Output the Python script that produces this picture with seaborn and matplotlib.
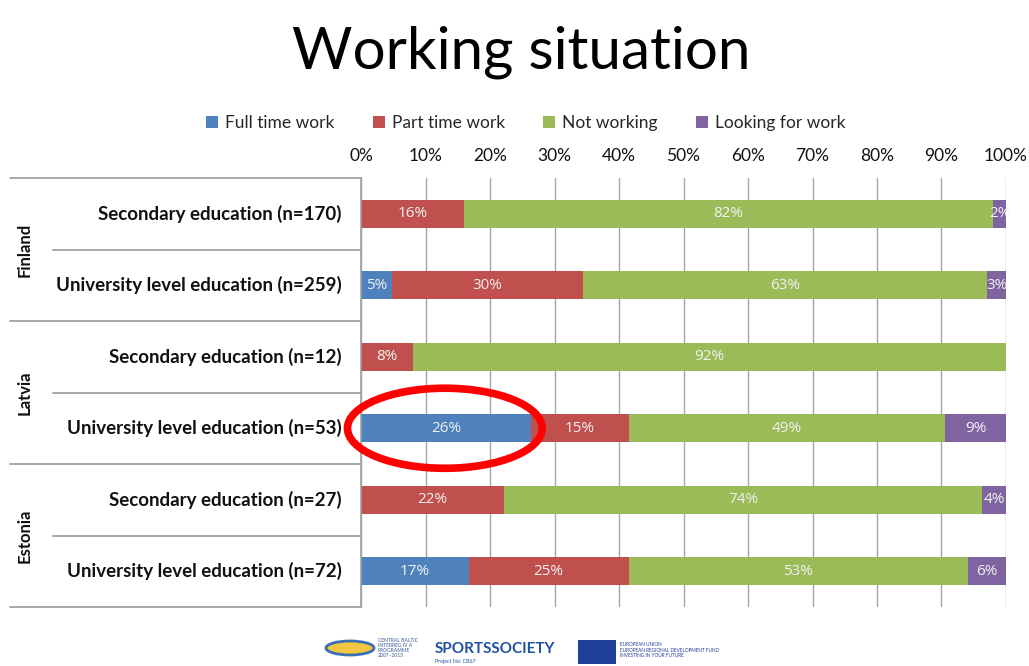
import matplotlib
matplotlib.use("Agg")
import matplotlib.pyplot as plt
import matplotlib.transforms as mtransforms
from matplotlib.patches import Patch, Ellipse, Rectangle
import seaborn as sns
import pandas as pd
import numpy as np

# ---------------- data ----------------
countries = ["Finland", "Latvia", "Estonia"]
categories = [
    "Secondary education (n=170)",
    "University level education (n=259)",
    "Secondary education (n=12)",
    "University level education (n=53)",
    "Secondary education (n=27)",
    "University level education (n=72)",
]
series = ["Full time work", "Part time work", "Not working", "Looking for work"]
full_time = [0.0, 4.8, 0.0, 26.4, 0.0, 16.7]
part_time = [16.0, 29.6, 8.0, 15.1, 22.2, 24.8]
not_working = [82.0, 62.7, 92.0, 49.1, 74.1, 52.6]
looking = [2.0, 2.9, 0.0, 9.4, 3.7, 5.9]
tick_labels = ["0%", "10%", "20%", "30%", "40%", "50%", "60%", "70%", "80%", "90%", "100%"]
colors = ["#4F81BD", "#C0504D", "#9BBB59", "#8064A2"]

# ---------------- style ----------------
sns.set_theme(style="white")
plt.rcParams["font.family"] = ["Lato", "DejaVu Sans"]

fig = plt.figure(figsize=(10.29, 6.66), dpi=100)
ax = fig.add_axes([361 / 1029, 1 - 607 / 666, 645 / 1029, 429 / 666])

vals = np.array([full_time, part_time, not_working, looking])
cum = np.cumsum(vals, axis=0)

# draw stacked bars: largest cumulative first
for i in range(3, -1, -1):
    df = pd.DataFrame({"category": categories, "value": cum[i]})
    sns.barplot(data=df, x="value", y="category", order=categories,
                color=colors[i], orient="h", width=0.39, ax=ax,
                saturation=1, edgecolor="none", linewidth=0)

# data labels
for i in range(4):
    for j in range(len(categories)):
        v = vals[i, j]
        if v <= 0:
            continue
        left = cum[i, j] - v
        ax.text(left + v / 2, j, f"{v:.0f}%", ha="center", va="center",
                color="#f2f2f2", fontsize=11, family=["Open Sans", "DejaVu Sans"])

ax.set_xlim(0, 100)
ax.set_ylim(5.5, -0.5)
ax.set_xticks(np.arange(0, 101, 10))
ax.set_xticklabels(tick_labels, fontsize=12.5, color="#111111")
ax.xaxis.tick_top()
ax.tick_params(axis="x", length=0, pad=10)
ax.set_xlabel("")
ax.set_ylabel("")
ax.set_yticks([])
ax.grid(axis="x", color="#a6a6a6", linewidth=1)
ax.set_axisbelow(True)
for s in ["top", "right", "bottom"]:
    ax.spines[s].set_visible(False)
ax.spines["left"].set_color("#a0a0a0")
ax.spines["left"].set_linewidth(1.2)

# category labels
trans = mtransforms.blended_transform_factory(ax.transAxes, ax.transData)
for j, c in enumerate(categories):
    ax.text(-19 / 645, j, c, transform=trans, ha="right", va="center",
            fontsize=13.5, fontweight="bold", color="#111111")

# separators
for y in [-0.5, 1.5, 3.5, 5.5]:
    ax.plot([-351 / 645, 0], [y, y], transform=trans, color="#a0a0a0",
            lw=1.3, clip_on=False)
for y in [0.5, 2.5, 4.5]:
    ax.plot([-308 / 645, 0], [y, y], transform=trans, color="#a0a0a0",
            lw=1.3, clip_on=False)

# country labels
for k, c in enumerate(countries):
    ax.text(-336 / 645, 2 * k + 0.5, c, transform=trans, ha="center", va="center",
            rotation=90, fontsize=12, fontweight="bold", color="#111111")

# highlight ellipse
ell = Ellipse((13.0, 3.0), 30.2, 1.12, fill=False, edgecolor="#ff0000",
              linewidth=5.5, clip_on=False, zorder=10)
ax.add_patch(ell)

# title
fig.text(0.507, 1 - 52 / 666, "Working situation", ha="center", va="center",
         fontsize=42, color="#000000")

# legend
handles = [Patch(facecolor=colors[i], edgecolor="none", label=series[i]) for i in range(4)]
fig.legend(handles=handles, loc="center", bbox_to_anchor=(0.511, 1 - 123 / 666),
           ncol=4, frameon=False, fontsize=12.5, handlelength=0.7, handleheight=0.7,
           handletextpad=0.4, columnspacing=2.2)

# footer logos (approximate)
fig.patches.append(Ellipse((350 / 1029, 1 - 648 / 666), 48 / 1029, 14 / 666,
                           transform=fig.transFigure, facecolor="#f4c542",
                           edgecolor="#3a6fb5", linewidth=2))
fig.text(378 / 1029, 1 - 648 / 666, "CENTRAL BALTIC\nINTERREG IV A\nPROGRAMME\n2007–2013",
         fontsize=3.6, color="#6a7fb0", va="center", ha="left", linespacing=1.0,
         fontweight="bold")
fig.text(495 / 1029, 1 - 649 / 666, "SPORTSSOCIETY", fontsize=11, color="#2050a0",
         fontweight="bold", ha="center", va="center")
fig.text(455 / 1029, 1 - 662 / 666, "Project No: CB67", fontsize=3.8, color="#2050a0",
         ha="center", va="center")
fig.patches.append(Rectangle((578 / 1029, 1 - 664 / 666), 38 / 1029, 24 / 666,
                             transform=fig.transFigure, facecolor="#1f3f99",
                             edgecolor="none"))
fig.text(620 / 1029, 1 - 650 / 666,
         "EUROPEAN UNION\nEUROPEAN REGIONAL DEVELOPMENT FUND\nINVESTING IN YOUR FUTURE",
         fontsize=3.4, color="#1f3f99", va="center", ha="left", linespacing=1.1)

fig.savefig("out.png", dpi=100)
